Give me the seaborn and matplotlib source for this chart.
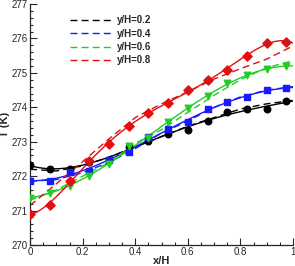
import pandas as pd
from matplotlib import pyplot as plt
from matplotlib.ticker import MultipleLocator, FuncFormatter
import seaborn as sns
import numpy as np

sns.set_style('ticks')
plt.rcParams['font.family'] = ['Liberation Sans', 'DejaVu Sans']

# measured points (markers)
x_meas = [0.0, 0.075, 0.15, 0.225, 0.3, 0.375, 0.45, 0.525, 0.6, 0.675, 0.75, 0.825, 0.9, 0.975]
t_02 = [272.31, 272.22, 272.21, 272.42, 272.47, 272.86, 273.01, 273.22, 273.34, 273.6, 273.87, 273.95, 273.95, 274.17]
t_04 = [271.87, 271.87, 272.13, 272.16, 272.47, 272.71, 273.15, 273.36, 273.56, 273.95, 274.14, 274.31, 274.51, 274.55]
t_06 = [271.37, 271.52, 271.72, 271.99, 272.35, 272.88, 273.1, 273.57, 273.97, 274.33, 274.7, 274.94, 275.1, 275.2]
t_08 = [270.9, 271.16, 271.87, 272.44, 272.94, 273.45, 273.82, 274.12, 274.5, 274.78, 275.09, 275.49, 275.88, 275.91]

# model curves (dashed)
x_model = [0.0, 0.1, 0.2, 0.3, 0.4, 0.5, 0.6, 0.7, 0.8, 0.9, 1.0]
m_02 = [272.2, 272.15, 272.3, 272.55, 272.85, 273.15, 273.45, 273.7, 273.95, 274.1, 274.2]
m_04 = [271.85, 271.9, 272.1, 272.4, 272.8, 273.25, 273.6, 274.0, 274.3, 274.5, 274.6]
m_06 = [271.3, 271.6, 272.0, 272.4, 272.95, 273.35, 273.85, 274.35, 274.8, 275.15, 275.35]
m_08 = [271.15, 271.78, 272.42, 273.08, 273.7, 274.1, 274.45, 274.82, 275.12, 275.4, 275.78]

labels = ['y/H=0.2', 'y/H=0.4', 'y/H=0.6', 'y/H=0.8']
colors = ['#000000', '#1a1aff', '#22cc22', '#e01010']
markers = ['o', 's', 'v', 'D']
fit_order = [4, 4, 4, 5]

meas = pd.DataFrame({'x': x_meas * 4,
                     'T': t_02 + t_04 + t_06 + t_08,
                     'series': np.repeat(labels, len(x_meas))})
model = pd.DataFrame({'x': x_model * 4,
                      'T': m_02 + m_04 + m_06 + m_08,
                      'series': np.repeat(labels, len(x_model))})

fig = plt.figure(figsize=(2.95, 2.66), dpi=100)
ax = fig.add_axes([0.102, 0.079, 0.891, 0.906])
ax.set_xlim(0, 1)
ax.set_ylim(270, 277)

for lab, c, m, k in zip(labels, colors, markers, fit_order):
    d = meas[meas.series == lab]
    sns.regplot(x='x', y='T', data=d, order=k, ci=None, scatter=False,
                truncate=False, color=c, line_kws={'lw': 1.0}, ax=ax)
    sns.lineplot(x='x', y='T', data=model[model.series == lab], color=c,
                 lw=1.0, ax=ax, label=lab)
    ax.lines[-1].set_dashes([5, 3])
    ax.scatter(d.x, d['T'], marker=m, s=22, color=c, edgecolor=c, zorder=5)

ax.set_xlim(0, 1)
ax.set_ylim(270, 277)
ax.xaxis.set_major_locator(MultipleLocator(0.2))
ax.xaxis.set_minor_locator(MultipleLocator(0.05))
ax.yaxis.set_major_locator(MultipleLocator(1))
ax.yaxis.set_minor_locator(MultipleLocator(0.2))
ax.xaxis.set_major_formatter(FuncFormatter(lambda v, p: '%g' % round(v, 2)))
ax.yaxis.set_major_formatter(FuncFormatter(lambda v, p: '%d' % round(v)))
ax.tick_params(which='both', direction='in', labelsize=7, pad=1.5, width=0.8)
ax.tick_params(which='major', length=5)
ax.tick_params(which='minor', length=2.5)
sns.despine(ax=ax)
ax.spines['left'].set_linewidth(0.9)
ax.spines['bottom'].set_linewidth(0.9)

ax.set_xlabel('x/H', fontsize=8, fontweight='bold', labelpad=-1)
ax.set_ylabel('T (K)', fontsize=8, fontweight='bold', labelpad=1)

leg = ax.legend(loc='upper left', bbox_to_anchor=(0.12, 0.99), frameon=False,
                handlelength=4.2, handletextpad=0.6, labelspacing=0.35,
                prop={'weight': 'bold', 'size': 7})
for h in leg.get_lines():
    h.set_dashes([5, 3])

fig.savefig('out.png', dpi=100)
